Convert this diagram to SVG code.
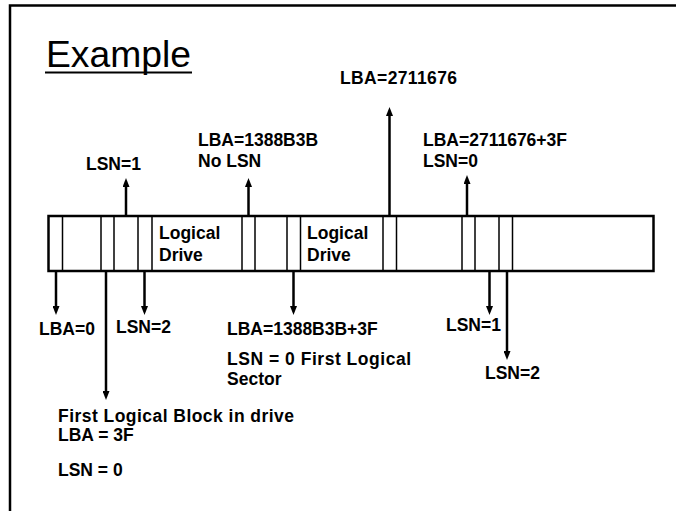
<svg xmlns="http://www.w3.org/2000/svg" width="676" height="511" viewBox="0 0 676 511">
<style>
.t{font-family:"Liberation Sans",Arial,sans-serif;font-weight:bold;font-size:17.5px;fill:#000}
.title{font-family:"Liberation Sans",Arial,sans-serif;font-size:36px;fill:#000}
.div{stroke:#000;stroke-width:1.5}
.arr{stroke:#000;stroke-width:2.5;fill:none;marker-end:url(#ah)}
</style>
<defs>
<marker id="ah" markerUnits="userSpaceOnUse" markerWidth="9" markerHeight="7" viewBox="0 0 9 7" refX="2" refY="3.5" orient="auto">
<path d="M0,0 L9,3.5 L0,7 Z" fill="#000"/>
</marker>
</defs>
<rect width="676" height="511" fill="#fff"/>
<path d="M10,511 V5.5 H676" fill="none" stroke="#000" stroke-width="2.5"/>
<g id="title">
<text class="title" x="46" y="67" textLength="145" lengthAdjust="spacingAndGlyphs">Example</text>
<line x1="45" y1="72.5" x2="192" y2="72.5" stroke="#000" stroke-width="2"/>
</g>
<g id="strip">
<rect x="48.5" y="216" width="605" height="55" fill="#fff" stroke="#000" stroke-width="2.5"/>
<g class="div">
<line x1="62.5" y1="216" x2="62.5" y2="271"/>
<line x1="101" y1="216" x2="101" y2="271"/>
<line x1="114" y1="216" x2="114" y2="271"/>
<line x1="138" y1="216" x2="138" y2="271"/>
<line x1="152" y1="216" x2="152" y2="271"/>
<line x1="242" y1="216" x2="242" y2="271"/>
<line x1="255" y1="216" x2="255" y2="271"/>
<line x1="287" y1="216" x2="287" y2="271"/>
<line x1="300.5" y1="216" x2="300.5" y2="271"/>
<line x1="383" y1="216" x2="383" y2="271"/>
<line x1="396.5" y1="216" x2="396.5" y2="271"/>
<line x1="462" y1="216" x2="462" y2="271"/>
<line x1="475" y1="216" x2="475" y2="271"/>
<line x1="499" y1="216" x2="499" y2="271"/>
<line x1="512.5" y1="216" x2="512.5" y2="271"/>
</g>
</g>
<g id="drive1"><text class="t" x="159" y="239">Logical</text><text class="t" x="159" y="261">Drive</text></g>
<g id="drive2"><text class="t" x="307" y="239">Logical</text><text class="t" x="307" y="261">Drive</text></g>
<g id="connectors">
<line class="arr" x1="126" y1="216" x2="126" y2="185"/>
<line class="arr" x1="248.5" y1="216" x2="248.5" y2="185"/>
<line class="arr" x1="389.5" y1="216" x2="389.5" y2="114"/>
<line class="arr" x1="467" y1="216" x2="467" y2="182"/>
<line class="arr" x1="56" y1="271" x2="56" y2="308"/>
<line class="arr" x1="106" y1="271" x2="106" y2="393"/>
<line class="arr" x1="144.5" y1="271" x2="144.5" y2="308"/>
<line class="arr" x1="293.5" y1="271" x2="293.5" y2="308"/>
<line class="arr" x1="489.5" y1="271" x2="489.5" y2="308"/>
<line class="arr" x1="507" y1="271" x2="507" y2="353"/>
</g>
<g id="lbl-lsn1-top"><text class="t" x="86" y="170">LSN=1</text></g>
<g id="lbl-1388"><text class="t" x="198" y="146">LBA=1388B3B</text><text class="t" x="198" y="167">No LSN</text></g>
<g id="lbl-2711676"><text class="t" x="340" y="84" textLength="117">LBA=2711676</text></g>
<g id="lbl-2711676-3f"><text class="t" x="423" y="146">LBA=2711676+3F</text><text class="t" x="423" y="167">LSN=0</text></g>
<g id="lbl-lba0"><text class="t" x="39" y="335">LBA=0</text></g>
<g id="lbl-lsn2-left"><text class="t" x="116" y="333">LSN=2</text></g>
<g id="lbl-1388-3f"><text class="t" x="227" y="335">LBA=1388B3B+3F</text><text class="t" x="227" y="365" textLength="184">LSN = 0 First Logical</text><text class="t" x="227" y="385">Sector</text></g>
<g id="lbl-lsn1-right"><text class="t" x="446" y="331">LSN=1</text></g>
<g id="lbl-lsn2-right"><text class="t" x="485" y="379">LSN=2</text></g>
<g id="lbl-first-block"><text class="t" x="58" y="422" textLength="236">First Logical Block in drive</text><text class="t" x="58" y="441">LBA = 3F</text><text class="t" x="58" y="476">LSN = 0</text></g>
</svg>
